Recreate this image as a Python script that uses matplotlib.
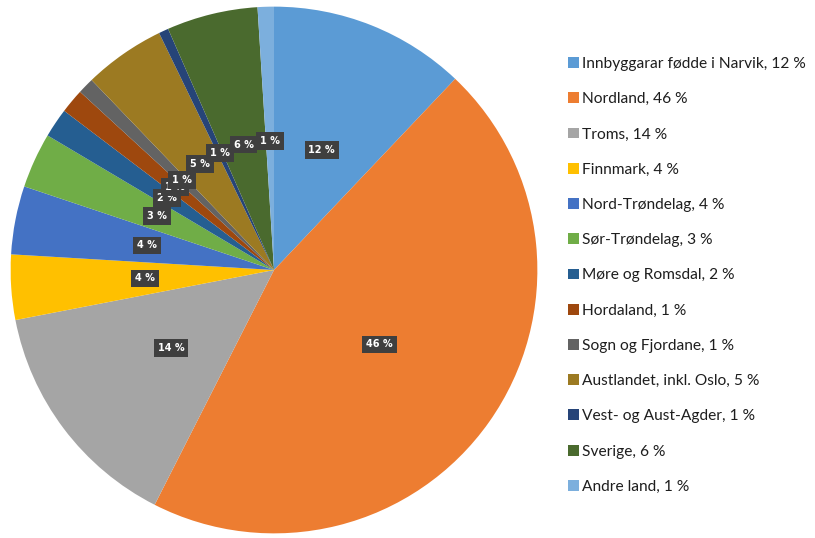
import numpy as np
import matplotlib.pyplot as plt
from matplotlib.patches import Patch

plt.rcParams['font.family'] = ['Lato', 'DejaVu Sans']

names = ["Innbyggarar fødde i Narvik", "Nordland", "Troms", "Finnmark",
         "Nord-Trøndelag", "Sør-Trøndelag", "Møre og Romsdal", "Hordaland",
         "Sogn og Fjordane", "Austlandet, inkl. Oslo", "Vest- og Aust-Agder",
         "Sverige", "Andre land"]
shares = [12.1, 45.5, 14.5, 4.0, 4.2, 3.4, 1.8, 1.5, 1.0, 5.0, 0.6, 5.6, 1.0]
pct_text = [12, 46, 14, 4, 4, 3, 2, 1, 1, 5, 1, 6, 1]
colors = ["#5B9BD5", "#ED7D31", "#A5A5A5", "#FFC000", "#4472C4", "#70AD47",
          "#255E91", "#9E480E", "#636363", "#9C7A22", "#264478", "#4A6A2E",
          "#7CAFDD"]

fig = plt.figure(figsize=(8.15, 5.38), dpi=100)
ax = fig.add_axes([8 / 815, 2 / 538, 532 / 815, 532 / 538])

wedges, _ = ax.pie(shares, colors=colors, startangle=90, counterclock=False,
                   radius=1, wedgeprops=dict(linewidth=0))
ax.set_xlim(-1.01, 1.01)
ax.set_ylim(-1.01, 1.01)
ax.set_aspect('equal')

# boxed labels at half radius
for w, p in zip(wedges, pct_text):
    mid = np.deg2rad((w.theta1 + w.theta2) / 2)
    x, y = 0.49 * np.cos(mid), 0.49 * np.sin(mid)
    ax.text(x, y, f"{p} %", ha='center', va='center', color='white',
            fontsize=7, fontweight='bold', family='DejaVu Sans',
            bbox=dict(boxstyle='square,pad=0.4', facecolor='#3F3F3F',
                      edgecolor='none'))

handles = [Patch(facecolor=c, edgecolor='none') for c in colors]
labels = [f"{n}, {p} %" for n, p in zip(names, pct_text)]
fig.legend(handles, labels, loc='upper left', bbox_to_anchor=(554 / 815, 1 - 43 / 538),
           frameon=False, fontsize=11.2, labelspacing=1.365, handlelength=0.7,
           handleheight=0.7, handletextpad=0.2, labelcolor='#1E1E1E')

fig.savefig("out.png", dpi=100)
